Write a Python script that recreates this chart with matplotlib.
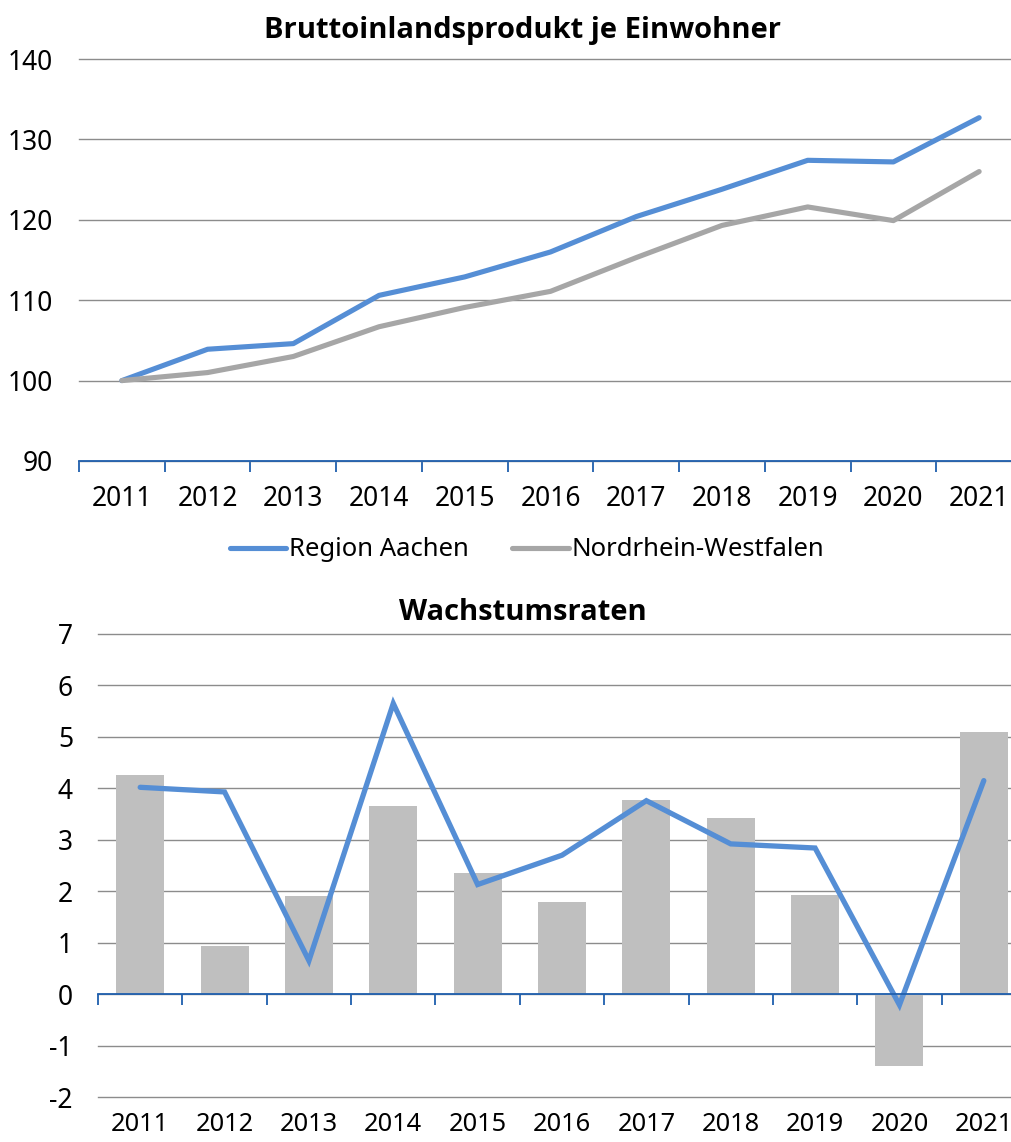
import matplotlib
matplotlib.use("Agg")
import matplotlib.pyplot as plt
import numpy as np

plt.rcParams['font.family'] = ['Noto Sans', 'DejaVu Sans']
plt.rcParams['axes.unicode_minus'] = False

years = ['2011', '2012', '2013', '2014', '2015', '2016', '2017', '2018', '2019', '2020', '2021']
aachen_index = [100.0, 103.9, 104.6, 110.6, 112.9, 116.0, 120.4, 123.8, 127.4, 127.2, 132.7]
nrw_index = [100.0, 101.0, 103.0, 106.7, 109.1, 111.1, 115.3, 119.3, 121.6, 119.9, 126.0]
growth_nrw = [4.26, 0.94, 1.91, 3.65, 2.35, 1.80, 3.78, 3.42, 1.93, -1.39, 5.09]
growth_aachen = [4.02, 3.93, 0.65, 5.65, 2.13, 2.70, 3.76, 2.92, 2.84, -0.21, 4.15]

BLUE = '#558ed5'
GRAYLINE = '#a6a6a6'
BARC = '#bfbfbf'
AXBLUE = '#1f5fae'
GRID = '#8c8c8c'
FS = 19
LFS = 18.5
TFS = 21
TITLE_FAMILY = ['Open Sans', 'Lato', 'DejaVu Sans']

W, H = 1011, 1142
fig = plt.figure(figsize=(W / 100, H / 100), dpi=100)

def frac(left, top, right, bottom):
    return [left / W, 1 - bottom / H, (right - left) / W, (bottom - top) / H]

x = np.arange(len(years))

# ---------- top chart ----------
ax1 = fig.add_axes(frac(79, 59, 1022, 461))
ax1.plot(x, aachen_index, color=BLUE, lw=3.7, solid_capstyle='round', solid_joinstyle='round', label='Region Aachen', zorder=3)
ax1.plot(x, nrw_index, color=GRAYLINE, lw=3.7, solid_capstyle='round', solid_joinstyle='round', label='Nordrhein-Westfalen', zorder=3)
ax1.set_xlim(-0.5, len(years) - 0.5)
ax1.set_ylim(90, 140)
ax1.set_yticks(np.arange(90, 141, 10))
ax1.yaxis.grid(True, color=GRID, lw=1.0)
ax1.set_axisbelow(True)
ax1.set_xticks(x)
ax1.set_xticklabels(years)
ax1.set_xticks(np.arange(-0.5, len(years), 1.0), minor=True)
ax1.tick_params(axis='x', which='major', length=0, pad=17, labelsize=FS)
ax1.tick_params(axis='x', which='minor', length=8, width=1.3, color=AXBLUE, direction='out')
ax1.tick_params(axis='y', length=0, pad=19, labelsize=FS)
for s in ['top', 'right', 'left']:
    ax1.spines[s].set_visible(False)
ax1.spines['bottom'].set_color(AXBLUE)
ax1.spines['bottom'].set_linewidth(1.3)
for gl in ax1.get_ygridlines():
    gl.set_clip_on(False)
ax1.set_title('Bruttoinlandsprodukt je Einwohner', fontsize=TFS, fontweight='bold', family=TITLE_FAMILY,
              pad=15, x=(523 - 79) / (1022 - 79))

fig.legend(handles=ax1.get_lines(), loc='center', bbox_to_anchor=(527 / W, 1 - 550 / H), ncol=2, frameon=False,
           fontsize=LFS, handlelength=2.2, handletextpad=0.1, columnspacing=1.7)

# ---------- bottom chart ----------
ax2 = fig.add_axes(frac(98, 634, 1026, 1097))
ax2.bar(x, growth_nrw, width=0.57, color=BARC, zorder=2)
ax2.plot(x, growth_aachen, color=BLUE, lw=3.8, solid_capstyle='round', solid_joinstyle='miter', zorder=3)
ax2.set_xlim(-0.5, len(years) - 0.5)
ax2.set_ylim(-2, 7)
ax2.set_yticks(np.arange(-2, 8, 1))
ax2.yaxis.grid(True, color=GRID, lw=1.0)
ax2.set_axisbelow(True)
ax2.set_xticks(x)
ax2.set_xticklabels(years)
ax2.tick_params(axis='x', length=0, pad=11, labelsize=18.3)
ax2.tick_params(axis='y', length=0, pad=18, labelsize=FS)
for s in ['top', 'right', 'left', 'bottom']:
    ax2.spines[s].set_visible(False)
for gl in ax2.get_ygridlines():
    gl.set_clip_on(False)
ax2.set_title('Wachstumsraten', fontsize=TFS, fontweight='bold', family=TITLE_FAMILY,
              pad=10, x=(523 - 98) / (1026 - 98))

sec = ax2.secondary_xaxis(0, transform=ax2.transData)
sec.set_xticks(np.arange(-0.5, len(years), 1.0))
sec.set_xticklabels([])
sec.tick_params(axis='x', length=8, width=1.3, color=AXBLUE, direction='out')
sec.spines['bottom'].set_color(AXBLUE)
sec.spines['bottom'].set_linewidth(1.3)
sec.set_zorder(4)

fig.savefig('out.png', dpi=100)
